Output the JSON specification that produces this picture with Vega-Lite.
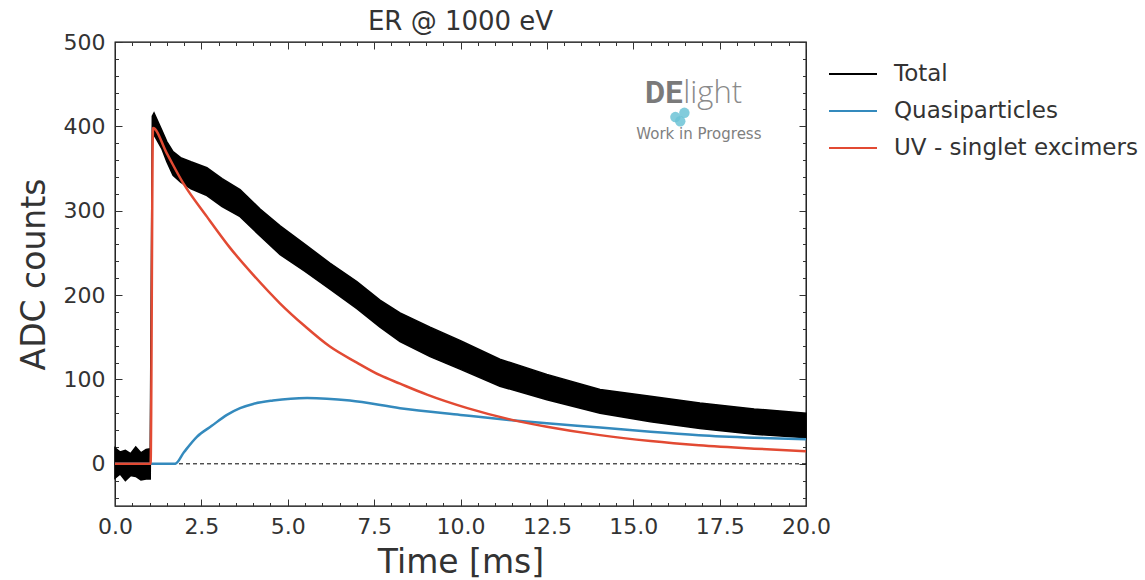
{
  "$schema": "https://vega.github.io/schema/vega-lite/v6.json",
  "width": 691,
  "height": 464,
  "autosize": {"type": "none"},
  "padding": {"left": 115, "top": 42, "right": 339, "bottom": 74},
  "background": "white",
  "config": {
    "view": {"stroke": "#000", "strokeWidth": 1.3},
    "font": "DejaVu Sans"
  },
  "title": {"text": "ER @ 1000 eV", "fontSize": 26, "fontWeight": "normal", "color": "#333", "font": "DejaVu Sans", "anchor": "middle", "offset": -4},
  "datasets": {
    "band": [
      {"t": 0.0, "lo": -17, "hi": 19, "series": "Total"},
      {"t": 0.15, "lo": -12, "hi": 14, "series": "Total"},
      {"t": 0.3, "lo": -20, "hi": 16, "series": "Total"},
      {"t": 0.45, "lo": -14, "hi": 12, "series": "Total"},
      {"t": 0.6, "lo": -15, "hi": 20, "series": "Total"},
      {"t": 0.75, "lo": -19, "hi": 13, "series": "Total"},
      {"t": 0.9, "lo": -18, "hi": 17, "series": "Total"},
      {"t": 1.02, "lo": -18, "hi": 18, "series": "Total"},
      {"t": 1.08, "lo": 385, "hi": 412, "series": "Total"},
      {"t": 1.13, "lo": 390, "hi": 416, "series": "Total"},
      {"t": 1.35, "lo": 374, "hi": 396, "series": "Total"},
      {"t": 1.5, "lo": 358, "hi": 382, "series": "Total"},
      {"t": 1.68, "lo": 342, "hi": 370, "series": "Total"},
      {"t": 1.9, "lo": 334, "hi": 363, "series": "Total"},
      {"t": 2.2, "lo": 326, "hi": 358, "series": "Total"},
      {"t": 2.66, "lo": 318, "hi": 351, "series": "Total"},
      {"t": 3.1, "lo": 305, "hi": 338, "series": "Total"},
      {"t": 3.62, "lo": 293, "hi": 325, "series": "Total"},
      {"t": 4.2, "lo": 270, "hi": 302, "series": "Total"},
      {"t": 4.78, "lo": 248, "hi": 282, "series": "Total"},
      {"t": 5.5, "lo": 228, "hi": 260, "series": "Total"},
      {"t": 6.22, "lo": 207, "hi": 238, "series": "Total"},
      {"t": 7.0, "lo": 184, "hi": 216, "series": "Total"},
      {"t": 7.67, "lo": 162, "hi": 194, "series": "Total"},
      {"t": 8.25, "lo": 145, "hi": 179, "series": "Total"},
      {"t": 9.12, "lo": 127, "hi": 162, "series": "Total"},
      {"t": 10.0, "lo": 112, "hi": 146, "series": "Total"},
      {"t": 11.14, "lo": 92, "hi": 124, "series": "Total"},
      {"t": 12.5, "lo": 76, "hi": 106, "series": "Total"},
      {"t": 14.04, "lo": 60, "hi": 88, "series": "Total"},
      {"t": 15.5, "lo": 50, "hi": 80, "series": "Total"},
      {"t": 16.93, "lo": 42, "hi": 72, "series": "Total"},
      {"t": 18.5, "lo": 35, "hi": 65, "series": "Total"},
      {"t": 20.0, "lo": 31, "hi": 60, "series": "Total"}
    ],
    "curves": [
      {"t": 0.0, "v": 0, "series": "Quasiparticles"},
      {"t": 1.74, "v": 0, "series": "Quasiparticles"},
      {"t": 2.0, "v": 14, "series": "Quasiparticles"},
      {"t": 2.37, "v": 32, "series": "Quasiparticles"},
      {"t": 2.8, "v": 45, "series": "Quasiparticles"},
      {"t": 3.24, "v": 58, "series": "Quasiparticles"},
      {"t": 3.62, "v": 66, "series": "Quasiparticles"},
      {"t": 4.0, "v": 71, "series": "Quasiparticles"},
      {"t": 4.57, "v": 75, "series": "Quasiparticles"},
      {"t": 5.56, "v": 78, "series": "Quasiparticles"},
      {"t": 6.8, "v": 75, "series": "Quasiparticles"},
      {"t": 8.25, "v": 66, "series": "Quasiparticles"},
      {"t": 10.0, "v": 58, "series": "Quasiparticles"},
      {"t": 11.4, "v": 52, "series": "Quasiparticles"},
      {"t": 12.5, "v": 48, "series": "Quasiparticles"},
      {"t": 14.04, "v": 43, "series": "Quasiparticles"},
      {"t": 15.5, "v": 38, "series": "Quasiparticles"},
      {"t": 16.9, "v": 34, "series": "Quasiparticles"},
      {"t": 18.5, "v": 31, "series": "Quasiparticles"},
      {"t": 20.0, "v": 29, "series": "Quasiparticles"},
      {"t": 0.0, "v": 0, "series": "UV - singlet excimers"},
      {"t": 1.03, "v": 0, "series": "UV - singlet excimers"},
      {"t": 1.1, "v": 398, "series": "UV - singlet excimers"},
      {"t": 1.5, "v": 368, "series": "UV - singlet excimers"},
      {"t": 1.97, "v": 333, "series": "UV - singlet excimers"},
      {"t": 2.66, "v": 293, "series": "UV - singlet excimers"},
      {"t": 3.33, "v": 256, "series": "UV - singlet excimers"},
      {"t": 4.0, "v": 224, "series": "UV - singlet excimers"},
      {"t": 4.78, "v": 190, "series": "UV - singlet excimers"},
      {"t": 5.5, "v": 163, "series": "UV - singlet excimers"},
      {"t": 6.22, "v": 139, "series": "UV - singlet excimers"},
      {"t": 7.0, "v": 120, "series": "UV - singlet excimers"},
      {"t": 7.67, "v": 105, "series": "UV - singlet excimers"},
      {"t": 8.25, "v": 95, "series": "UV - singlet excimers"},
      {"t": 9.03, "v": 82, "series": "UV - singlet excimers"},
      {"t": 10.2, "v": 66, "series": "UV - singlet excimers"},
      {"t": 11.4, "v": 53, "series": "UV - singlet excimers"},
      {"t": 12.5, "v": 44, "series": "UV - singlet excimers"},
      {"t": 14.04, "v": 34, "series": "UV - singlet excimers"},
      {"t": 15.5, "v": 27, "series": "UV - singlet excimers"},
      {"t": 16.9, "v": 22, "series": "UV - singlet excimers"},
      {"t": 18.5, "v": 18, "series": "UV - singlet excimers"},
      {"t": 20.0, "v": 15, "series": "UV - singlet excimers"}
    ],
    "cloud": [
      {"t": 16.22, "v": 411},
      {"t": 16.48, "v": 416},
      {"t": 16.36, "v": 406}
    ],
    "logo": [
      {"t": 15.34, "v": 428, "label": "DE", "part": "bold"},
      {"t": 16.45, "v": 428, "label": "light", "part": "light"},
      {"t": 16.9, "v": 385, "label": "Work in Progress", "part": "sub"}
    ]
  },
  "layer": [
    {
      "data": {"name": "band"},
      "mark": {"type": "area", "stroke": "black", "strokeWidth": 1.5},
      "encoding": {
        "x": {
          "field": "t", "type": "quantitative",
          "scale": {"domain": [0, 20], "nice": false, "zero": false},
          "axis": {
            "orient": "bottom",
            "values": [0,0.5,1,1.5,2,2.5,3,3.5,4,4.5,5,5.5,6,6.5,7,7.5,8,8.5,9,9.5,10,10.5,11,11.5,12,12.5,13,13.5,14,14.5,15,15.5,16,16.5,17,17.5,18,18.5,19,19.5,20],
            "labelExpr": "datum.value % 2.5 === 0 ? format(datum.value, '.1f') : ''",
            "tickSize": {"condition": {"test": "datum.value % 2.5 === 0", "value": -7}, "value": -3.5},
            "tickColor": "#333",
            "tickWidth": 1,
            "domain": false,
            "grid": false,
            "labelFontSize": 22,
            "labelColor": "#333",
            "labelFont": "DejaVu Sans",
            "labelPadding": 17,
            "labelOverlap": false,
            "labelFlush": false,
            "title": "Time [ms]",
            "titleFontSize": 33,
            "titleFontWeight": "normal",
            "titleColor": "#333",
            "titleFont": "DejaVu Sans",
            "titlePadding": 6
          }
        },
        "y": {
          "field": "lo", "type": "quantitative",
          "scale": {"domain": [-50, 500], "nice": false, "zero": false},
          "axis": {
            "orient": "left",
            "values": [-40,-20,0,20,40,60,80,100,120,140,160,180,200,220,240,260,280,300,320,340,360,380,400,420,440,460,480,500],
            "labelExpr": "datum.value % 100 === 0 ? format(datum.value, 'd') : ''",
            "tickSize": {"condition": {"test": "datum.value % 100 === 0", "value": -7}, "value": -3.5},
            "tickColor": "#333",
            "tickWidth": 1,
            "domain": false,
            "grid": false,
            "labelFontSize": 22,
            "labelColor": "#333",
            "labelFont": "DejaVu Sans",
            "labelPadding": 17,
            "labelOverlap": false,
            "labelFlush": false,
            "title": "ADC counts",
            "titleFontSize": 33,
            "titleFontWeight": "normal",
            "titleColor": "#333",
            "titleFont": "DejaVu Sans",
            "titlePadding": 12
          }
        },
        "y2": {"field": "hi"},
        "color": {
          "field": "series", "type": "nominal",
          "scale": {"domain": ["Total", "Quasiparticles", "UV - singlet excimers"], "range": ["#000000", "#348ABD", "#E24A33"]},
          "legend": {
            "orient": "none", "legendX": 713, "legendY": 7, "title": null,
            "symbolType": "stroke", "symbolSize": 2304, "symbolStrokeWidth": 2,
            "labelFontSize": 23, "labelColor": "#333", "labelFont": "DejaVu Sans",
            "labelOffset": 16, "rowPadding": -13, "labelLimit": 400
          }
        }
      }
    },
    {
      "data": {"values": [{"zero": 0}]},
      "mark": {"type": "rule", "strokeDash": [4, 3], "color": "black", "strokeWidth": 1},
      "encoding": {"y": {"field": "zero", "type": "quantitative", "axis": null}}
    },
    {
      "data": {"name": "curves"},
      "mark": {"type": "line", "strokeWidth": 2.5, "interpolate": "monotone"},
      "encoding": {
        "x": {"field": "t", "type": "quantitative", "axis": null},
        "y": {"field": "v", "type": "quantitative", "axis": null},
        "color": {"field": "series", "type": "nominal"},
        "detail": {"field": "series"}
      }
    },
    {
      "data": {"name": "cloud"},
      "mark": {"type": "circle", "size": 110, "color": "#6cc3d6", "opacity": 0.85},
      "encoding": {
        "x": {"field": "t", "type": "quantitative", "axis": null},
        "y": {"field": "v", "type": "quantitative", "axis": null}
      }
    },
    {
      "data": {"name": "logo"},
      "transform": [{"filter": "datum.part === 'bold'"}],
      "mark": {"type": "text", "font": "Roboto", "fontWeight": "bold", "fontSize": 31, "color": "#7a7a7a", "align": "left", "baseline": "alphabetic"},
      "encoding": {"x": {"field": "t", "type": "quantitative", "axis": null}, "y": {"field": "v", "type": "quantitative", "axis": null}, "text": {"field": "label"}}
    },
    {
      "data": {"name": "logo"},
      "transform": [{"filter": "datum.part === 'light'"}],
      "mark": {"type": "text", "font": "Open Sans", "fontWeight": 300, "fontSize": 31, "color": "#8a8a8a", "align": "left", "baseline": "alphabetic"},
      "encoding": {"x": {"field": "t", "type": "quantitative", "axis": null}, "y": {"field": "v", "type": "quantitative", "axis": null}, "text": {"field": "label"}}
    },
    {
      "data": {"name": "logo"},
      "transform": [{"filter": "datum.part === 'sub'"}],
      "mark": {"type": "text", "font": "DejaVu Sans", "fontSize": 15, "color": "#808080", "align": "center", "baseline": "alphabetic"},
      "encoding": {"x": {"field": "t", "type": "quantitative", "axis": null}, "y": {"field": "v", "type": "quantitative", "axis": null}, "text": {"field": "label"}}
    },
    {
      "data": {"values": [{"zx": 0, "zy": 0}]},
      "mark": {"type": "point", "opacity": 0},
      "encoding": {
        "x": {"field": "zx", "type": "quantitative", "axis": {
          "orient": "top",
          "values": [0,0.5,1,1.5,2,2.5,3,3.5,4,4.5,5,5.5,6,6.5,7,7.5,8,8.5,9,9.5,10,10.5,11,11.5,12,12.5,13,13.5,14,14.5,15,15.5,16,16.5,17,17.5,18,18.5,19,19.5,20],
          "labels": false, "domain": false, "grid": false, "title": null, "tickColor": "#333",
          "tickSize": {"condition": {"test": "datum.value % 2.5 === 0", "value": -7}, "value": -3.5}
        }},
        "y": {"field": "zy", "type": "quantitative", "axis": {
          "orient": "right",
          "values": [-40,-20,0,20,40,60,80,100,120,140,160,180,200,220,240,260,280,300,320,340,360,380,400,420,440,460,480,500],
          "labels": false, "domain": false, "grid": false, "title": null, "tickColor": "#333",
          "tickSize": {"condition": {"test": "datum.value % 100 === 0", "value": -7}, "value": -3.5}
        }}
      }
    }
  ],
  "resolve": {"axis": {"x": "independent", "y": "independent"}}
}
